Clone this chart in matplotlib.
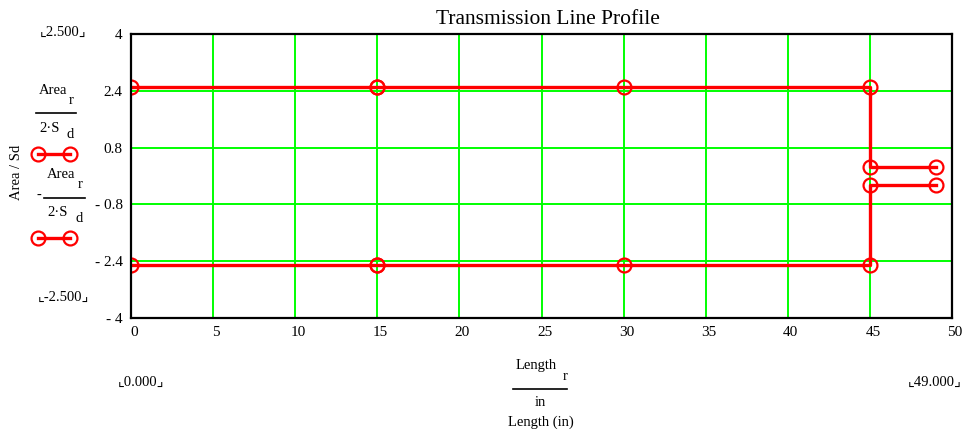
import matplotlib
matplotlib.use("Agg")
import matplotlib.pyplot as plt
from matplotlib.lines import Line2D
from matplotlib.transforms import ScaledTranslation

# ---- data ----
length_r = [0, 15, 15, 30, 45, 45, 49]          # Length_r / in
area_ratio = [2.5, 2.5, 2.5, 2.5, 2.5, 0.25, 0.25]  # Area_r / (2*S_d)
neg_area_ratio = [-v for v in area_ratio]
x_ticks = [0, 5, 10, 15, 20, 25, 30, 35, 40, 45, 50]
y_ticks = [-4, -2.4, -0.8, 0.8, 2.4, 4]
y_tick_labels = ["- 4", "- 2.4", "- 0.8", "0.8", "2.4", "4"]
x_limits = (0, 50)
y_limits = (-4, 4)

SERIF = ["Liberation Serif", "DejaVu Serif"]
plt.rcParams["font.family"] = SERIF

W, H = 966, 434
fig = plt.figure(figsize=(W / 100, H / 100), dpi=100)
ax = fig.add_axes([131 / W, 1 - 318 / H, (952 - 131) / W, (318 - 34) / H])

RED = "#ff0000"
GREEN = "#00ff00"

ax.set_xlim(*x_limits)
ax.set_ylim(*y_limits)
ax.set_xticks(x_ticks)
ax.set_yticks(y_ticks)
ax.set_yticklabels(y_tick_labels)
ax.tick_params(length=0, labelsize=11, pad=6)
shift = ScaledTranslation(3 / 100, 0, fig.dpi_scale_trans)
for lab in ax.get_xticklabels():
    lab.set_transform(lab.get_transform() + shift)
ax.grid(True, color=GREEN, linewidth=1.4)
ax.set_axisbelow(True)
for sp in ax.spines.values():
    sp.set_color("black")
    sp.set_linewidth(1.6)
    sp.set_zorder(5)

style = dict(color=RED, linewidth=2.4, marker="o", markersize=10,
             markerfacecolor="none", markeredgecolor=RED, markeredgewidth=1.6,
             clip_on=True, zorder=3)
ax.plot(length_r, area_ratio, **style)
ax.plot(length_r, neg_area_ratio, **style)


def ft(x, y, s, size=11, **kw):
    fig.text(x / W, 1 - y / H, s, fontsize=size, ha="center", va="center",
             family=["Liberation Serif", "DejaVu Sans"], **kw)


def bar(x0, x1, y):
    fig.add_artist(Line2D([x0 / W, x1 / W], [1 - y / H, 1 - y / H],
                          color="black", linewidth=1.2))


ft(548, 20, "Transmission Line Profile", 15.5)

# left legend / labels
ft(63, 32, "\u231e2.500\u231f", 10.5)
ft(63, 297, "\u231e-2.500\u231f", 10.5)
ft(17, 172, "Area / Sd", 10.5, rotation=90)

ft(53, 90, "Area", 10.5)
ft(71, 100, "r", 10.5)
bar(36, 76, 113)
ft(50, 128, "2\u00b7S", 10.5)
ft(70, 135, "d", 10.5)

ft(39, 195, "-", 10.5)
ft(61, 175, "Area", 10.5)
ft(80, 185, "r", 10.5)
bar(44, 85, 198)
ft(58, 212, "2\u00b7S", 10.5)
ft(79, 218, "d", 10.5)

for yy in (154, 238):
    fig.add_artist(Line2D([38 / W, 70 / W], [1 - yy / H, 1 - yy / H],
                          color=RED, linewidth=2.4, marker="o", markersize=10,
                          markerfacecolor="none", markeredgecolor=RED,
                          markeredgewidth=1.6))

# bottom labels
ft(141, 382, "\u231e0.000\u231f", 10.5)
ft(935, 382, "\u231e49.000\u231f", 10.5)
ft(536, 366, "Length", 10.5)
ft(565, 376, "r", 10.5)
bar(513, 567, 389)
ft(540, 402, "in", 10.5)
ft(541, 422, "Length (in)", 10.5)

fig.savefig("out.png", dpi=100)
